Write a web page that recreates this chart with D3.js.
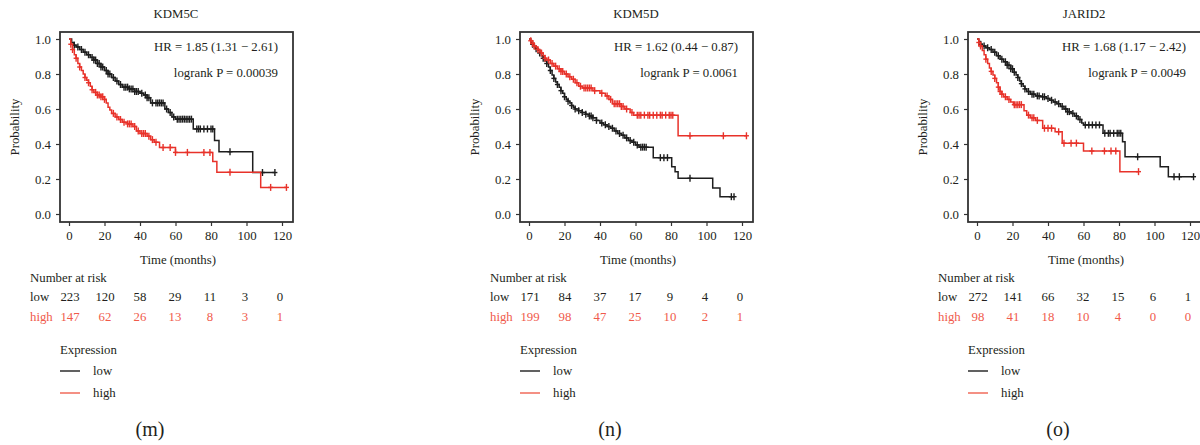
<!DOCTYPE html>
<html>
<head>
<meta charset="utf-8">
<script src="https://cdn.jsdelivr.net/npm/d3@7"></script>
<style>
  body { margin: 0; background: #fff; }
  svg text { font-family: "Liberation Serif", "DejaVu Serif", serif; fill: #231f20; }
</style>
</head>
<body>
<svg id="chart"></svg>
<script>
const width = 1200;
const height = 445;

// time points for the x axis and for the number at risk table
const timeTicks = [0, 20, 40, 60, 80, 100, 120];
const probTicks = [0, 0.2, 0.4, 0.6, 0.8, 1.0];

// KDM5C curves: [month, survival] at each step, last point = end of follow up
const kdm5cLow = [[0,1],[1.5,0.98],[2.5,0.965],[4,0.955],[6,0.94],[8,0.925],[10,0.91],[12,0.895],[14,0.88],[16,0.86],[18,0.84],[20,0.82],[22,0.80],[24,0.78],[26,0.76],[28,0.74],[30,0.725],[34,0.715],[37,0.70],[40,0.69],[42,0.68],[44,0.665],[46,0.635],[54,0.60],[56,0.58],[58,0.555],[60,0.542],[70,0.486],[82,0.42],[84.5,0.356],[103.5,0.237],[116,0.237]];
const kdm5cHigh = [[0,1],[1,0.97],[2,0.94],[3,0.91],[4,0.89],[5,0.86],[6,0.84],[7,0.82],[8,0.80],[9,0.78],[10,0.765],[11,0.75],[12,0.73],[13,0.71],[14,0.695],[16,0.68],[18,0.67],[20,0.655],[21,0.635],[22,0.61],[23,0.595],[24,0.575],[26,0.555],[28,0.54],[30,0.525],[33,0.515],[36,0.50],[38,0.475],[40,0.46],[44,0.445],[46,0.425],[48,0.41],[51,0.38],[60,0.352],[81,0.30],[83.3,0.238],[108,0.152],[122.5,0.152]];
const kdm5cLowCens = [3,5,7,9,11,13,14,15,16,17,18,19,21,22,23,25,27,29,31,32,33,34,35,36,37,38,39,41,43,44,45,47,49,50,51,52,53,55,57,59,61,62,63,64,65,66,67,68,69,72,73,74,76,78,80,81,90.7,109,116];
const kdm5cHighCens = [1,2,4,6,9,11,13,15,16,17,18,19,20,25,27,29,31,33,34,35,37,39,41,42,43,45,47,49,53,57,60,66.7,76,79.4,90.7,113.6,122.5];
const kdm5cRiskLow = [223, 120, 58, 29, 11, 3, 0];
const kdm5cRiskHigh = [147, 62, 26, 13, 8, 3, 1];

// KDM5D curves
const kdm5dLow = [[0,1],[1,0.98],[2,0.97],[3,0.955],[4,0.945],[5,0.935],[6,0.92],[7,0.905],[8,0.89],[9,0.875],[10,0.86],[11,0.84],[12,0.82],[13,0.795],[14,0.775],[15,0.755],[16,0.74],[17,0.725],[18,0.705],[19,0.69],[20,0.67],[21,0.655],[22,0.645],[23,0.635],[24,0.62],[25,0.61],[26,0.60],[28,0.59],[30,0.58],[32,0.57],[34,0.56],[36,0.55],[38,0.535],[40,0.52],[42,0.51],[44,0.50],[46,0.49],[48,0.475],[50,0.46],[52,0.45],[54,0.435],[56,0.42],[58,0.41],[60,0.395],[62,0.382],[70,0.322],[80.4,0.27],[82.3,0.242],[84,0.204],[103.5,0.148],[107.6,0.099],[115.5,0.099]];
const kdm5dHigh = [[0,1],[1,0.99],[2,0.975],[3,0.96],[4,0.95],[5,0.94],[6,0.93],[7,0.92],[8,0.905],[9,0.89],[10,0.88],[12,0.86],[14,0.845],[16,0.83],[18,0.815],[20,0.80],[22,0.785],[24,0.77],[26,0.75],[28,0.73],[30,0.72],[36,0.705],[40,0.69],[43,0.675],[45,0.655],[47,0.63],[52,0.615],[54,0.60],[57,0.58],[59,0.565],[84,0.447],[122.5,0.447]];
const kdm5dLowCens = [2,4,6,8,10,12,14,16,18,20,22,24,26,28,30,32,34,35,36,38,41,43,45,47,49,51,53,55,57,59,61,63,64,65,66,74,76,78,90.7,114,115.5];
const kdm5dHighCens = [1,2,3,5,7,9,11,13,15,17,18,19,21,23,25,27,29,31,32,33,34,35,37,41,44,46,48,49,50,51,52,53,55,58,61,62,63,65,67,68,70,72,74,75,77,79,80,81,90.7,109.5,122.5];
const kdm5dRiskLow = [171, 84, 37, 17, 9, 4, 0];
const kdm5dRiskHigh = [199, 98, 47, 25, 10, 2, 1];

// JARID2 curves
const jarid2Low = [[0,1],[1,0.985],[2,0.97],[3,0.96],[5,0.95],[7,0.94],[9,0.925],[11,0.905],[13,0.885],[15,0.87],[17,0.85],[19,0.83],[21,0.81],[22,0.795],[23,0.78],[24,0.76],[25,0.745],[26,0.73],[27,0.715],[28,0.70],[30,0.685],[33,0.675],[36,0.67],[39,0.66],[41,0.65],[43,0.64],[45,0.63],[47,0.615],[49,0.60],[51,0.585],[53,0.575],[55,0.56],[57,0.54],[59,0.52],[60,0.509],[71,0.461],[82,0.413],[83.4,0.327],[103.2,0.27],[107.8,0.213],[122,0.213]];
const jarid2High = [[0,1],[1,0.98],[2,0.96],[3,0.935],[4,0.91],[5,0.885],[6,0.86],[7,0.835],[8,0.815],[9,0.795],[10,0.775],[11,0.75],[12,0.725],[13,0.70],[14,0.685],[15,0.67],[17,0.655],[19,0.64],[20.5,0.625],[26.5,0.59],[28,0.565],[30,0.55],[33,0.535],[37,0.49],[44,0.47],[48,0.405],[60,0.36],[80.5,0.242],[91,0.242]];
const jarid2LowCens = [2,4,6,8,10,12,14,16,17,18,19,20,21,23,25,27,29,31,32,34,35,37,38,40,42,44,46,48,50,51,52,54,56,58,61,63,65,67,69,72,74,75,77,79,80,81,90.5,111,114,122];
const jarid2HighCens = [1,2,5,8,10,12,13,14,16,18,21,22,23,24,25,29,31,32,34,38,40,42,46,49,53,56,64.7,71.8,75.5,78.2,91];
const jarid2RiskLow = [272, 141, 66, 32, 15, 6, 1];
const jarid2RiskHigh = [98, 41, 18, 10, 4, 0, 0];

const panels = [
  { tag: "(m)", title: "KDM5C", ox: 0, hr: "HR = 1.85 (1.31 \u2212 2.61)", p: "logrank P = 0.00039",
    low: kdm5cLow, high: kdm5cHigh, lowCens: kdm5cLowCens, highCens: kdm5cHighCens, riskLow: kdm5cRiskLow, riskHigh: kdm5cRiskHigh },
  { tag: "(n)", title: "KDM5D", ox: 460, hr: "HR = 1.62 (0.44 \u2212 0.87)", p: "logrank P = 0.0061",
    low: kdm5dLow, high: kdm5dHigh, lowCens: kdm5dLowCens, highCens: kdm5dHighCens, riskLow: kdm5dRiskLow, riskHigh: kdm5dRiskHigh },
  { tag: "(o)", title: "JARID2", ox: 908, hr: "HR = 1.68 (1.17 \u2212 2.42)", p: "logrank P = 0.0049",
    low: jarid2Low, high: jarid2High, lowCens: jarid2LowCens, highCens: jarid2HighCens, riskLow: jarid2RiskLow, riskHigh: jarid2RiskHigh }
];

const black = "#1e1e1e";
const red = "#e8322a";
const redText = "#f05a4b";
const fs = 12.8;

const svg = d3.select("#chart")
    .attr("width", width)
    .attr("height", height);

// scales are shared, each panel is shifted by ox
const x = d3.scaleLinear().domain([0, 120]).range([69, 282]);
const y = d3.scaleLinear().domain([0, 1]).range([214, 39]);
const riskX = d3.scalePoint().domain(timeTicks).range([70, 280]);

const line = d3.line()
    .x(d => x(d[0]))
    .y(d => y(d[1]))
    .curve(d3.curveStepAfter);

// survival value at time t from the step points
function survAt(curve, t) {
  let s = curve[0][1];
  for (const pt of curve) {
    if (pt[0] <= t) s = pt[1];
  }
  return s;
}

panels.forEach(pn => {
  const g = svg.append("g").attr("transform", `translate(${pn.ox},0)`);

  g.append("text")
    .attr("x", 176).attr("y", 18)
    .attr("text-anchor", "middle")
    .attr("font-size", fs)
    .text(pn.title);

  // axes
  g.append("g")
    .attr("transform", "translate(0,222)")
    .call(d3.axisBottom(x).tickValues(timeTicks).tickSize(4).tickPadding(5))
    .call(a => a.select(".domain").remove())
    .call(a => a.selectAll("line").attr("stroke", "#333").attr("stroke-width", 1.2))
    .call(a => a.selectAll("text").attr("font-size", fs).attr("font-family", null));

  g.append("g")
    .attr("transform", "translate(60,0)")
    .call(d3.axisLeft(y).tickValues(probTicks).tickFormat(d3.format(".1f")).tickSize(4).tickPadding(5))
    .call(a => a.select(".domain").remove())
    .call(a => a.selectAll("line").attr("stroke", "#333").attr("stroke-width", 1.2))
    .call(a => a.selectAll("text").attr("font-size", fs).attr("font-family", null));

  g.append("rect")
    .attr("x", 60).attr("y", 32)
    .attr("width", 233).attr("height", 190)
    .attr("fill", "none")
    .attr("stroke", "#333")
    .attr("stroke-width", 1.8);

  g.append("text")
    .attr("transform", "translate(19,127) rotate(-90)")
    .attr("text-anchor", "middle")
    .attr("font-size", fs)
    .text("Probability");

  g.append("text")
    .attr("x", 178).attr("y", 264)
    .attr("text-anchor", "middle")
    .attr("font-size", fs)
    .text("Time (months)");

  // curves, low first so high sits on top
  [[pn.low, pn.lowCens, black], [pn.high, pn.highCens, red]].forEach(([curve, cens, col]) => {
    g.append("path")
      .datum(curve)
      .attr("d", line)
      .attr("fill", "none")
      .attr("stroke", col)
      .attr("stroke-width", 1.5);

    const marks = g.append("g")
      .selectAll("g")
      .data(cens)
      .join("g")
        .attr("transform", t => `translate(${x(t)},${y(survAt(curve, t))})`);
    marks.append("line")
      .attr("y1", -3.5).attr("y2", 3.5)
      .attr("stroke", col).attr("stroke-width", 1.4);
    marks.append("line")
      .attr("x1", -2.5).attr("x2", 2.5)
      .attr("stroke", col).attr("stroke-width", 1.4);
  });

  g.append("text")
    .attr("x", 278).attr("y", 51)
    .attr("text-anchor", "end")
    .attr("font-size", fs)
    .text(pn.hr);
  g.append("text")
    .attr("x", 278).attr("y", 77)
    .attr("text-anchor", "end")
    .attr("font-size", fs)
    .text(pn.p);

  // number at risk table
  g.append("text")
    .attr("x", 30).attr("y", 282)
    .attr("font-size", fs)
    .text("Number at risk");

  [[pn.riskLow, "low", 301, "#231f20"], [pn.riskHigh, "high", 321, redText]].forEach(([vals, lab, yy, col]) => {
    g.append("text")
      .attr("x", 30).attr("y", yy)
      .attr("font-size", fs)
      .style("fill", col)
      .text(lab);
    g.append("g")
      .selectAll("text")
      .data(vals)
      .join("text")
        .attr("x", (d, i) => riskX(timeTicks[i]))
        .attr("y", yy)
        .attr("text-anchor", "middle")
        .attr("font-size", fs)
        .style("fill", col)
        .text(d => d);
  });

  // legend
  g.append("text")
    .attr("x", 60).attr("y", 354)
    .attr("font-size", fs)
    .text("Expression");
  [["low", black, 371], ["high", "#f0614f", 393]].forEach(([lab, col, yy]) => {
    g.append("line")
      .attr("x1", 60).attr("x2", 80)
      .attr("y1", yy).attr("y2", yy)
      .attr("stroke", col).attr("stroke-width", 1.4);
    g.append("text")
      .attr("x", 93).attr("y", yy + 4)
      .attr("font-size", fs)
      .text(lab);
  });

  g.append("text")
    .attr("x", 150).attr("y", 436)
    .attr("text-anchor", "middle")
    .attr("font-size", 20)
    .text(pn.tag);
});
</script>
</body>
</html>
